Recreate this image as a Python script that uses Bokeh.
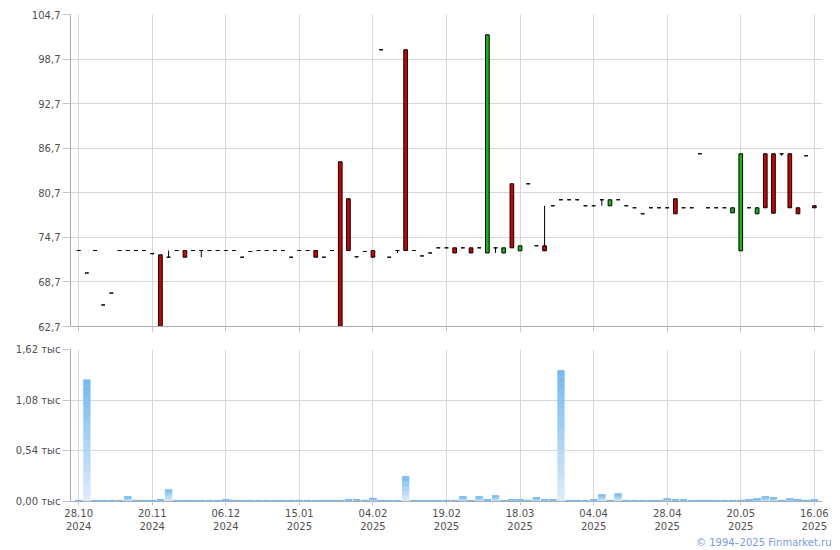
from bokeh.plotting import figure
from bokeh.layouts import column
from bokeh.models import Range1d, FixedTicker, ColumnDataSource, Title
from bokeh.embed import file_html
from bokeh.resources import INLINE

# ---------------- data (one entry per trading session) ----------------
opens = [72.93, 69.9, 72.93, 65.6, 67.2, 72.93, 72.93, 72.93, 72.93, 72.5,
         72.35, 72.03, 72.93, 72.93, 72.93, 72.93, 72.93, 72.93, 72.93, 72.93,
         72.03, 72.8, 72.93, 72.93, 72.93, 72.93, 72.03, 72.93, 72.93, 72.93,
         72.03, 72.93, 84.87, 79.9, 72.1, 72.8, 72.93, 99.95, 72.03, 72.93,
         99.95, 72.93, 72.2, 72.6, 73.29, 73.29, 73.29, 73.29, 73.29, 73.29,
         72.6, 73.29, 72.6, 81.91, 72.89, 81.91, 73.56, 73.56, 78.95, 79.76,
         79.76, 79.76, 78.95, 78.95, 79.76, 78.95, 79.76, 78.95, 78.68, 77.87,
         78.68, 78.68, 78.68, 79.89, 78.68, 78.68, 85.95, 78.68, 78.68, 78.68,
         78.0, 72.89, 78.68, 77.87, 85.95, 85.95, 85.95, 85.95, 78.68, 85.68,
         78.95]
closes = [72.93, 69.9, 72.93, 65.6, 67.2, 72.93, 72.93, 72.93, 72.93, 72.5,
          62.7, 72.03, 72.93, 72.03, 72.93, 72.93, 72.93, 72.93, 72.93, 72.93,
          72.03, 72.8, 72.93, 72.93, 72.93, 72.93, 72.03, 72.93, 72.93, 72.03,
          72.03, 72.93, 62.7, 72.93, 72.1, 72.8, 72.03, 99.95, 72.03, 72.93,
          72.93, 72.93, 72.2, 72.6, 73.29, 73.29, 72.6, 73.29, 72.6, 73.29,
          101.97, 73.29, 73.29, 73.29, 73.56, 81.91, 73.56, 72.89, 78.95, 79.76,
          79.76, 79.76, 78.95, 78.95, 79.76, 79.76, 79.76, 78.95, 78.68, 77.87,
          78.68, 78.68, 78.68, 77.87, 78.68, 78.68, 85.95, 78.68, 78.68, 78.68,
          78.68, 85.95, 78.68, 78.68, 78.68, 77.95, 85.95, 78.68, 77.87, 85.68,
          78.68]
highs = [72.93, 69.9, 72.93, 65.6, 67.2, 72.93, 72.93, 72.93, 72.93, 72.5,
         72.35, 72.93, 72.93, 72.93, 72.93, 72.93, 72.93, 72.93, 72.93, 72.93,
         72.03, 72.8, 72.93, 72.93, 72.93, 72.93, 72.03, 72.93, 72.93, 72.93,
         72.03, 72.93, 84.87, 79.9, 72.1, 72.8, 72.93, 99.95, 72.03, 72.93,
         99.95, 72.93, 72.2, 72.6, 73.29, 73.29, 73.29, 73.29, 73.29, 73.29,
         101.97, 73.29, 73.29, 81.91, 73.56, 81.91, 73.56, 78.95, 78.95, 79.76,
         79.76, 79.76, 78.95, 78.95, 79.76, 79.76, 79.76, 78.95, 78.68, 77.87,
         78.68, 78.68, 78.68, 79.89, 78.68, 78.68, 85.95, 78.68, 78.68, 78.68,
         78.68, 85.95, 78.68, 78.68, 85.95, 85.95, 85.95, 85.95, 78.68, 85.68,
         78.95]
lows = [72.93, 69.9, 72.93, 65.6, 67.2, 72.93, 72.93, 72.93, 72.93, 72.5,
        62.7, 72.03, 72.93, 72.03, 72.93, 72.03, 72.93, 72.93, 72.93, 72.93,
        72.03, 72.8, 72.93, 72.93, 72.93, 72.93, 72.03, 72.93, 72.93, 72.03,
        72.03, 72.93, 62.7, 72.93, 71.9, 72.8, 72.03, 99.95, 72.03, 72.6,
        72.93, 72.93, 72.2, 72.6, 73.29, 73.29, 72.6, 73.29, 72.6, 73.29,
        72.6, 72.6, 72.6, 73.29, 72.89, 81.91, 73.56, 72.89, 78.95, 79.76,
        79.76, 79.76, 78.95, 78.95, 78.95, 78.95, 79.76, 78.95, 78.68, 77.87,
        78.68, 78.68, 78.68, 77.87, 78.68, 78.68, 85.95, 78.68, 78.68, 78.68,
        78.0, 72.89, 78.68, 77.87, 78.68, 77.95, 85.68, 78.68, 77.87, 85.68,
        78.68]
volumes = [12, 1300, 12, 12, 12, 12, 53, 12, 12, 12,
           22, 128, 12, 12, 12, 12, 12, 12, 22, 12,
           12, 12, 12, 12, 12, 12, 12, 12, 12, 12,
           12, 12, 12, 22, 22, 12, 35, 12, 12, 12,
           270, 12, 12, 12, 12, 12, 12, 53, 12, 53,
           22, 64, 12, 22, 22, 12, 43, 22, 22, 1400,
           12, 12, 12, 22, 75, 12, 85, 12, 12, 12,
           12, 12, 30, 22, 22, 12, 12, 12, 12, 12,
           12, 12, 22, 30, 53, 43, 12, 30, 22, 12,
           22]

tick_positions = [0, 9, 18, 27, 36, 45, 54, 63, 72, 81, 90]
tick_labels = ["28.10\n2024", "20.11\n2024", "06.12\n2024", "15.01\n2025",
               "04.02\n2025", "19.02\n2025", "18.03\n2025", "04.04\n2025",
               "28.04\n2025", "20.05\n2025", "16.06\n2025"]
price_ticks = [62.7, 68.7, 74.7, 80.7, 86.7, 92.7, 98.7, 104.7]
volume_ticks = [0, 540, 1080, 1620]

# ---------------- styling ----------------
FONT = "DejaVu Sans"
LABEL_COLOR = "#505050"
GRID = "#d4d8dc"
AXIS = "#a8adb3"
UP = "#10b810"
DOWN = "#d00000"

n = len(opens)
xs = list(range(n))

price_src = ColumnDataSource(dict(
    x=xs,
    top=[max(o, c) for o, c in zip(opens, closes)],
    bottom=[min(o, c) for o, c in zip(opens, closes)],
    high=highs, low=lows,
    color=[UP if c > o else DOWN for o, c in zip(opens, closes)],
))

x_range = Range1d(-1, 91)


def style(p):
    p.outline_line_color = None
    p.background_fill_color = "white"
    p.border_fill_color = "white"
    for ax in p.axis:
        ax.axis_line_color = AXIS
        ax.major_tick_line_color = "#c4c8cc"
        ax.minor_tick_line_color = None
        ax.major_label_text_font = FONT
        ax.major_label_text_font_size = "10px"
        ax.major_label_text_color = LABEL_COLOR
    p.xgrid.grid_line_color = GRID
    p.ygrid.grid_line_color = GRID
    p.yaxis.major_tick_out = 8
    p.yaxis.major_tick_in = 0
    p.yaxis.major_label_standoff = 2
    p.xaxis.major_tick_in = 0


# ---------------- price panel ----------------
p1 = figure(width=832, height=338, x_range=x_range, y_range=Range1d(62.7, 104.7),
            output_backend="svg", toolbar_location=None,
            min_border_left=70, min_border_right=10, min_border_top=14,
            min_border_bottom=12)
style(p1)
p1.xaxis.ticker = FixedTicker(ticks=tick_positions)
p1.xaxis.major_label_text_color = None
p1.xaxis.major_label_text_font_size = "1px"
p1.xaxis.major_label_standoff = 0
p1.xaxis.major_tick_out = 6
p1.yaxis.ticker = FixedTicker(ticks=price_ticks)
p1.yaxis.major_label_overrides = {t: f"{t:.1f}".replace(".", ",") for t in price_ticks}

p1.segment(x0="x", y0="high", x1="x", y1="low", source=price_src,
           line_color="black", line_width=1)
p1.vbar(x="x", width=0.45, top="top", bottom="bottom", source=price_src,
        fill_color="color", line_color="black", line_width=1)

# ---------------- volume panel ----------------
N = 20
top_rgb = (0x72, 0xb8, 0xf1)
bot_rgb = (0xdd, 0xec, 0xfa)
vx, vtop, vbot, vcol = [], [], [], []
for i, v in enumerate(volumes):
    for k in range(N):
        t = (k + 0.5) / N
        rgb = tuple(int(round(b + (a - b) * t)) for a, b in zip(top_rgb, bot_rgb))
        vx.append(i)
        vbot.append(v * k / N)
        vtop.append(v * (k + 1) / N)
        vcol.append("#%02x%02x%02x" % rgb)
vol_src = ColumnDataSource(dict(x=vx, top=vtop, bottom=vbot, color=vcol))

p2 = figure(width=832, height=210, x_range=x_range, y_range=Range1d(0, 1620),
            output_backend="svg", toolbar_location=None,
            min_border_left=70, min_border_right=10, min_border_top=11,
            min_border_bottom=47)
style(p2)
p2.xaxis.ticker = FixedTicker(ticks=tick_positions)
p2.xaxis.major_label_overrides = dict(zip(tick_positions, tick_labels))
p2.xaxis.major_tick_out = 4
p2.xaxis.major_label_standoff = 2
p2.yaxis.ticker = FixedTicker(ticks=volume_ticks)
p2.yaxis.major_label_overrides = {t: f"{t / 1000:.2f}".replace(".", ",") + " тыс"
                                  for t in volume_ticks}

p2.vbar(x="x", width=0.85, top="top", bottom="bottom", source=vol_src,
        fill_color="color", line_color="color", line_width=0.3)

p2.add_layout(Title(text="© 1994–2025 Finmarket.ru", align="right",
                    text_color="#7b9be6", text_font=FONT, text_font_size="10px",
                    text_font_style="normal", standoff=0, offset=-9), "below")

layout = column(p1, p2, spacing=0)
open("out.html", "w").write(file_html(layout, INLINE))
